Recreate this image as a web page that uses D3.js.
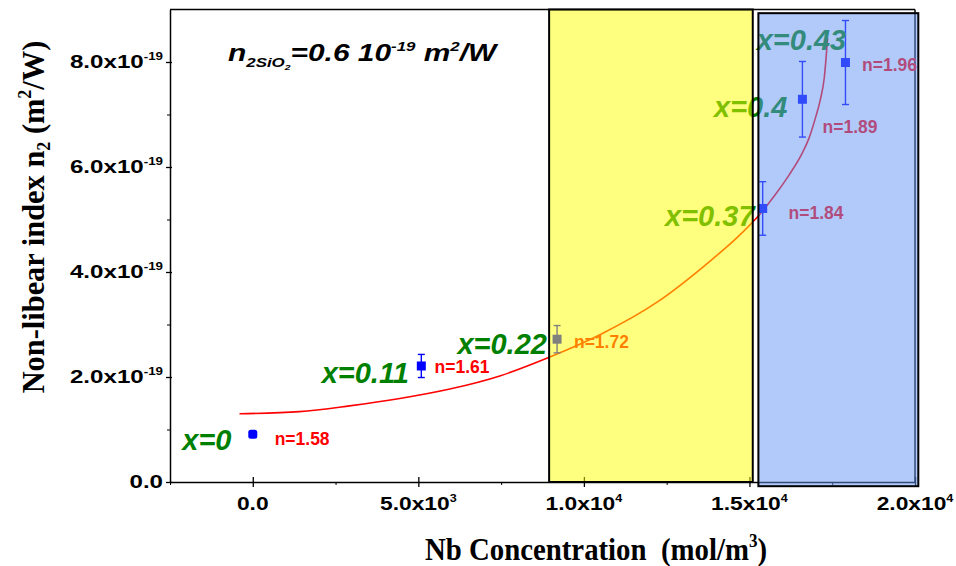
<!DOCTYPE html>
<html>
<head>
<meta charset="utf-8">
<script src="https://cdn.jsdelivr.net/npm/d3@7"></script>
<style>
  body { margin: 0; background: #fff; }
  text { white-space: pre; }
</style>
</head>
<body>
<svg id="chart" width="956" height="566"></svg>
<script>
// measured points: Nb concentration (mol/m3) vs n2 (x1e-19 m2/W)
const conc = [0, 5090, 9190, 15400, 16600, 17900];
const n2 = [0.91, 2.21, 2.72, 5.21, 7.29, 7.99];
const n2Err = [0.05, 0.22, 0.26, 0.51, 0.72, 0.80];

const compLabels = ["x=0", "x=0.11", "x=0.22", "x=0.37", "x=0.4", "x=0.43"];
const compLabelAt = [[-2130, 0.61], [2080, 1.89], [6180, 2.44], [12450, 4.88], [13930, 6.95], [15220, 8.22]];
const indexLabels = ["n=1.58", "n=1.61", "n=1.72", "n=1.84", "n=1.89", "n=1.96"];
const indexLabelAt = [[660, 0.70], [5490, 2.08], [9700, 2.55], [16180, 5.01], [17210, 6.64], [18400, 7.82]];

// fitted curve
const fitX = [-400, 1410, 2920, 4440, 5950, 7460, 8970, 10500, 12200, 13910, 14600, 15340, 15800, 16200, 16590, 16800, 17000, 17140, 17260, 17360];
const fitY = [1.30, 1.34, 1.45, 1.59, 1.77, 2.02, 2.38, 2.81, 3.42, 4.26, 4.64, 5.12, 5.49, 5.85, 6.26, 6.55, 6.95, 7.28, 7.70, 8.46];

// shaded composition ranges
const boxX = [[8950, 15100], [15270, 20100]];
const boxY = [[0, 9], [-0.08, 8.93]];
const boxFill = ["#ffff00", "rgb(100,150,245)"];

const xMajor = [0, 5000, 10000, 15000, 20000];
const xMinor = [-2500, 2500, 7500, 12500, 17500];
const xTickText = [["0.0", ""], ["5.0x10", "3"], ["1.0x10", "4"], ["1.5x10", "4"], ["2.0x10", "4"]];
const yMajor = [0, 2, 4, 6, 8];
const yMinor = [1, 3, 5, 7];
const yTickText = [["0.0", ""], ["2.0x10", "-19"], ["4.0x10", "-19"], ["6.0x10", "-19"], ["8.0x10", "-19"]];

const svg = d3.select("#chart");
const sans = "'Liberation Sans', Arial, sans-serif";
const serif = "'Liberation Serif', 'Times New Roman', serif";

const x = d3.scaleLinear().domain([-2500, 20000]).range([170, 915]);
const y = d3.scaleLinear().domain([0, 9]).range([482, 9.5]);

// frame top / right
svg.append("line").attr("x1", x(-2500)).attr("x2", x(20000)).attr("y1", y(9)).attr("y2", y(9))
    .attr("stroke", "#000").attr("stroke-width", 1.5);
svg.append("line").attr("x1", x(20000)).attr("x2", x(20000)).attr("y1", y(9)).attr("y2", y(0))
    .attr("stroke", "#000").attr("stroke-width", 1.5);

// x axis
const gx = svg.append("g").attr("transform", `translate(0,${y(0)})`)
    .call(d3.axisBottom(x).tickValues(xMajor).tickSize(5).tickSizeOuter(0).tickFormat(""));
gx.selectAll(".tick line").attr("y1", -5).attr("stroke-width", 1.3);
gx.select(".domain").attr("stroke-width", 1.5);
svg.append("g").attr("transform", `translate(0,${y(0)})`)
    .call(d3.axisBottom(x).tickValues(xMinor).tickSize(3).tickSizeOuter(0).tickFormat(""))
    .call(g => g.select(".domain").remove());

// y axis
const gy = svg.append("g").attr("transform", `translate(${x(-2500)},0)`)
    .call(d3.axisLeft(y).tickValues(yMajor).tickSize(4).tickSizeOuter(0).tickFormat(""));
gy.selectAll(".tick line").attr("x1", 2).attr("stroke-width", 1.3);
gy.select(".domain").attr("stroke-width", 1.5);
svg.append("g").attr("transform", `translate(${x(-2500)},0)`)
    .call(d3.axisLeft(y).tickValues(yMinor).tickSize(3).tickSizeOuter(0).tickFormat(""))
    .call(g => g.select(".domain").remove());

function tickLabel(px, py, anchor, sx, parts) {
    const t = svg.append("text")
        .attr("transform", `translate(${px},${py}) scale(${sx},1)`)
        .attr("text-anchor", anchor)
        .attr("font-family", sans).attr("font-weight", "bold").attr("font-size", 19);
    t.append("tspan").text(parts[0]);
    if (parts[1]) t.append("tspan").attr("font-size", 10.5).attr("dy", -8).text(parts[1]);
}
xMajor.forEach((v, i) => tickLabel(x(v), 510, "middle", 1.2, xTickText[i]));
yMajor.forEach((v, i) => tickLabel(163, y(v) + 6, "end", 1.27, yTickText[i]));

// axis titles
const xt = svg.append("text")
    .attr("transform", "translate(596,560) scale(0.9,1)")
    .attr("text-anchor", "middle")
    .attr("font-family", serif).attr("font-weight", "bold").attr("font-size", 32);
xt.append("tspan").text("Nb Concentration  (mol/m");
xt.append("tspan").attr("font-size", 19).attr("dy", -13).text("3");
xt.append("tspan").attr("dy", 13).text(")");

const yt = svg.append("text")
    .attr("transform", "translate(44,217) rotate(-90) scale(0.95,1)")
    .attr("text-anchor", "middle")
    .attr("font-family", serif).attr("font-weight", "bold").attr("font-size", 32);
yt.append("tspan").text("Non-libear index n");
yt.append("tspan").attr("font-size", 19).attr("dy", 6).text("2");
yt.append("tspan").attr("dy", -6).text(" (m");
yt.append("tspan").attr("font-size", 19).attr("dy", -13).text("2");
yt.append("tspan").attr("dy", 13).text("/W)");

// reference value for SiO2
const ann = svg.append("text")
    .attr("transform", "translate(228,61) scale(1.3,1)")
    .attr("font-family", sans).attr("font-weight", "bold").attr("font-style", "italic").attr("font-size", 23);
ann.append("tspan").text("n");
ann.append("tspan").attr("font-size", 13).attr("dy", 6).text("2SiO");
ann.append("tspan").attr("font-size", 8).attr("dy", 3).text("2");
ann.append("tspan").attr("dy", -9).text("=0.6 10");
ann.append("tspan").attr("font-size", 13).attr("dy", -10).text("-19");
ann.append("tspan").attr("dy", 10).text(" m");
ann.append("tspan").attr("font-size", 13).attr("dy", -10).text("2");
ann.append("tspan").attr("dy", 10).text("/W");

// fit curve
const fitLine = d3.line().x(d => x(d[0])).y(d => y(d[1])).curve(d3.curveMonotoneX);
svg.append("path")
    .datum(fitX.map((v, i) => [v, fitY[i]]))
    .attr("d", fitLine)
    .attr("fill", "none").attr("stroke", "#ff0000").attr("stroke-width", 1.6);

// error bars + markers
const pts = conc.map((c, i) => ({ c, v: n2[i], e: n2Err[i] }));
const pg = svg.append("g").attr("stroke", "#0000ff").attr("stroke-width", 1.4);
pg.selectAll(".err").data(pts).join("line")
    .attr("x1", d => x(d.c)).attr("x2", d => x(d.c))
    .attr("y1", d => y(d.v - d.e)).attr("y2", d => y(d.v + d.e));
pg.selectAll(".capTop").data(pts).join("line")
    .attr("x1", d => x(d.c) - 3.5).attr("x2", d => x(d.c) + 3.5)
    .attr("y1", d => y(d.v + d.e)).attr("y2", d => y(d.v + d.e));
pg.selectAll(".capBot").data(pts).join("line")
    .attr("x1", d => x(d.c) - 3.5).attr("x2", d => x(d.c) + 3.5)
    .attr("y1", d => y(d.v - d.e)).attr("y2", d => y(d.v - d.e));
svg.selectAll(".pt").data(pts).join("rect")
    .attr("x", d => x(d.c) - 4.5).attr("y", d => y(d.v) - 4.5)
    .attr("width", 9).attr("height", 9)
    .attr("rx", (d, i) => i === 0 ? 2.5 : 0)
    .attr("fill", "#0000ff");

// composition and index labels
svg.selectAll(".comp").data(compLabels).join("text")
    .attr("x", (d, i) => x(compLabelAt[i][0])).attr("y", (d, i) => y(compLabelAt[i][1]))
    .attr("font-family", sans).attr("font-weight", "bold").attr("font-style", "italic")
    .attr("font-size", 29).attr("fill", "#008000")
    .text(d => d);
svg.selectAll(".idx").data(indexLabels).join("text")
    .attr("x", (d, i) => x(indexLabelAt[i][0])).attr("y", (d, i) => y(indexLabelAt[i][1]))
    .attr("font-family", sans).attr("font-weight", "bold")
    .attr("font-size", 17.5).attr("fill", "#ff0000")
    .text(d => d);

// translucent range boxes on top
svg.selectAll(".box").data(boxX).join("rect")
    .attr("x", d => x(d[0])).attr("width", d => x(d[1]) - x(d[0]))
    .attr("y", (d, i) => y(boxY[i][1])).attr("height", (d, i) => y(boxY[i][0]) - y(boxY[i][1]))
    .attr("fill", (d, i) => boxFill[i]).attr("fill-opacity", 0.5)
    .attr("stroke", "#000").attr("stroke-width", 2);
</script>
</body>
</html>
